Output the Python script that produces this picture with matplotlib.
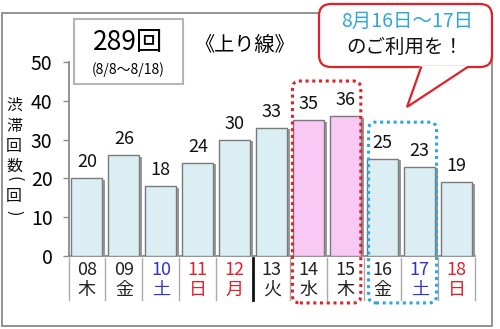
import matplotlib
matplotlib.use("Agg")
import matplotlib.pyplot as plt
import matplotlib.patheffects as pe
from matplotlib.patches import Rectangle, FancyBboxPatch, Polygon
from matplotlib.transforms import blended_transform_factory

plt.rcParams['font.family'] = ['Noto Sans CJK JP', 'DejaVu Sans']

days = ['08', '09', '10', '11', '12', '13', '14', '15', '16', '17', '18']
weekdays = ['木', '金', '土', '日', '月', '火', '水', '木', '金', '土', '日']
jams = [20, 26, 18, 24, 30, 33, 35, 36, 25, 23, 19]
label_colors = ['#222222', '#222222', '#3333cc', '#e0202a', '#e0202a', '#222222',
                '#222222', '#222222', '#222222', '#3333cc', '#e0202a']
highlight = [False] * 6 + [True, True] + [False] * 3

RED = '#e0202a'
BLUE = '#2ea6dc'
GRAY = '#8a8a8a'

fig = plt.figure(figsize=(5.0, 3.29), dpi=100)

# overlay in pixel coordinates for frame / boxes
ov = fig.add_axes([0, 0, 1, 1], zorder=0)
ov.set_xlim(0, 500)
ov.set_ylim(329, 0)
ov.axis('off')

ov.add_patch(Rectangle((2, 13), 490, 313, fill=False, ec=GRAY, lw=1.3, zorder=1))

# title box
ov.add_patch(Rectangle((74, 19), 109, 65, fc='white', ec='#b5b5b5', lw=1.5, zorder=2))
ov.text(128, 43, '289回', fontsize=19, ha='center', va='center', zorder=3)
ov.text(128, 70, '(8/8～8/18)', fontsize=10, ha='center', va='center', zorder=3)
ov.text(245, 45, '《上り線》', fontsize=14.5, ha='center', va='center', zorder=3)

# callout
ov.add_patch(FancyBboxPatch((319, 4), 173, 63, boxstyle='round,pad=0,rounding_size=12',
                            fc='white', ec=RED, lw=1.6, zorder=4))
ov.add_patch(Polygon([(420, 66), (468, 66), (407, 107)], closed=True, fc='white',
                     ec='none', zorder=5))
ov.plot([421, 407, 467], [67.5, 107, 67.5], color=RED, lw=1.6, zorder=6,
        solid_joinstyle='miter')
ov.text(407, 21, '8月16日～17日', fontsize=14, color=BLUE, ha='center', va='center', zorder=7)
ov.text(405, 47, 'のご利用を！', fontsize=14, color='#111111', ha='center', va='center', zorder=7)

# stacked vertical y label (parentheses turned for vertical writing)
ylabel_chars = ['渋', '滞', '回', '数', '(', '回', ')']
ylabel_y = [105, 126, 147, 166, 179, 196, 213]
for ch, yy in zip(ylabel_chars, ylabel_y):
    rot = -90 if ch in '()' else 0
    ov.text(14, yy, ch, fontsize=11.5, rotation=rot, ha='center', va='center',
            color='#111111', zorder=3)

# main chart
ax = fig.add_axes([68.5 / 500, 73 / 329, 406.5 / 500, 194 / 329], zorder=1)
ax.patch.set_alpha(0)
x = range(len(days))
colors = ['#f9c9f5' if h else '#daeef3' for h in highlight]
bars = ax.bar(x, jams, width=0.84, color=colors, edgecolor='#7a7a7a', lw=1.0, zorder=3)
for b in bars:
    b.set_path_effects([pe.SimplePatchShadow(offset=(2, -1), shadow_rgbFace='#9a9a9a', alpha=1.0),
                        pe.Normal()])
ax.bar_label(bars, padding=5, fontsize=13, color='#111111')

ax.set_xlim(-0.5, len(days) - 0.5)
ax.set_ylim(0, 50)
ax.set_yticks([0, 10, 20, 30, 40, 50])
ax.tick_params(axis='y', length=4.5, width=1, color=GRAY, pad=7, labelsize=14)
ax.set_xticks([])
for s in ['top', 'right']:
    ax.spines[s].set_visible(False)
for s in ['left', 'bottom']:
    ax.spines[s].set_color(GRAY)
    ax.spines[s].set_linewidth(1.3)

# category labels with separators
tr = blended_transform_factory(ax.transData, ax.transAxes)
for i, (d, w, c) in enumerate(zip(days, weekdays, label_colors)):
    ax.text(i, -14 / 194, d, transform=tr, fontsize=13, color=c, ha='center', va='center')
    ax.text(i, -34 / 194, w, transform=tr, fontsize=13, color=c, ha='center', va='center')
for k in range(len(days) + 1):
    bold = (k == 5)
    ax.plot([k - 0.5, k - 0.5], [-2 / 194, -44 / 194], transform=tr, clip_on=False,
            color='#111111' if bold else '#aaaaaa', lw=2.0 if bold else 1.0)

# dotted highlight boxes (data coords)
asp = (50 / 194) / (11 / 406.5)
ax.add_patch(FancyBboxPatch((5.56, -12.1), 1.85, 57.2,
                            boxstyle='round,pad=0,rounding_size=0.2', mutation_aspect=asp,
                            fill=False, ec=RED, lw=2.2, ls=(0, (1, 1.2)), clip_on=False, zorder=5))
ax.add_patch(FancyBboxPatch((7.62, -12.1), 1.84, 46.6,
                            boxstyle='round,pad=0,rounding_size=0.2', mutation_aspect=asp,
                            fill=False, ec=BLUE, lw=2.2, ls=(0, (1, 1.2)), clip_on=False, zorder=5))

fig.savefig('out.png', dpi=100)
